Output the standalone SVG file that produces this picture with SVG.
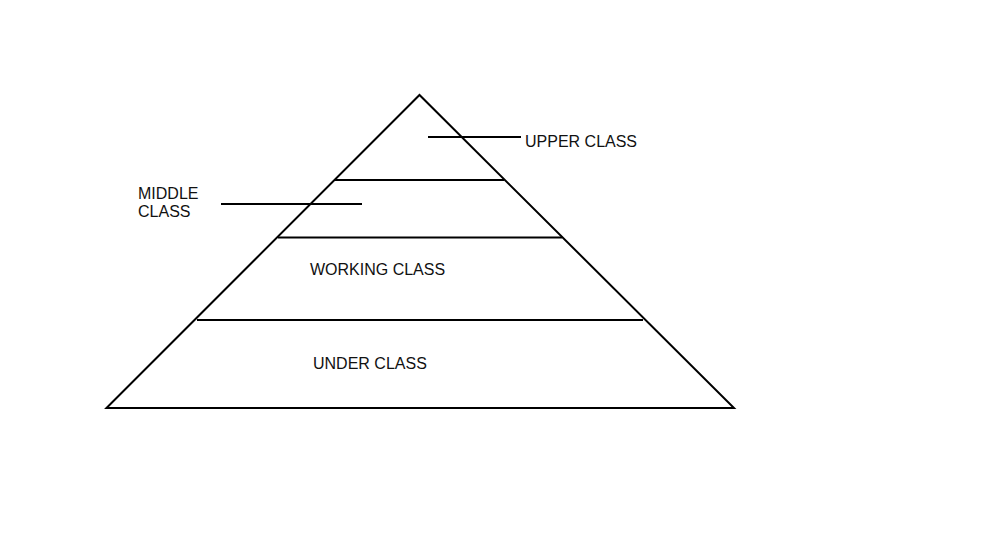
<svg xmlns="http://www.w3.org/2000/svg" width="1000" height="539" viewBox="0 0 1000 539">
<style>
.ln{stroke:#000;stroke-width:2;fill:none;stroke-linecap:butt}
.t{font-family:"Liberation Sans",Arial,sans-serif;font-size:16px;fill:#111}
</style>
<rect width="1000" height="539" fill="#fff"/>
<g id="connectors">
<path class="ln" d="M106.5,408 L419.5,95 L734,408 Z" stroke-linejoin="miter"/>
<line class="ln" x1="334" y1="180" x2="504" y2="180"/>
<line class="ln" x1="278" y1="237.5" x2="562" y2="237.5"/>
<line class="ln" x1="197" y1="320" x2="643" y2="320"/>
<line class="ln" x1="428" y1="137" x2="521" y2="137"/>
<line class="ln" x1="221" y1="204" x2="362" y2="204"/>
</g>
<g id="upper"><text class="t" x="525" y="146.5">UPPER CLASS</text></g>
<g id="middle"><text class="t" x="138" y="198.5">MIDDLE</text><text class="t" x="138" y="216.5">CLASS</text></g>
<g id="working"><text class="t" x="310" y="274.5">WORKING CLASS</text></g>
<g id="under"><text class="t" x="313" y="368.5">UNDER CLASS</text></g>
</svg>
